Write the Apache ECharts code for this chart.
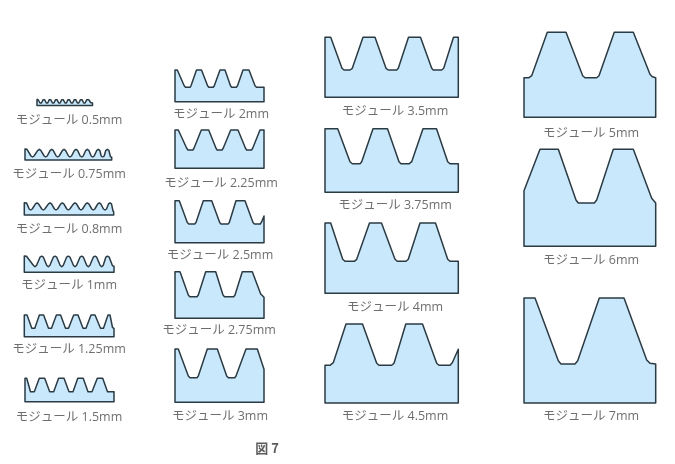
<!DOCTYPE html>
<html>
<head>
<meta charset="utf-8">
<style>
  html, body { margin: 0; padding: 0; background: #fff; }
  #chart { width: 675px; height: 464px; }
</style>
<script src="https://cdn.jsdelivr.net/npm/echarts@6/dist/echarts.min.js"></script>
</head>
<body>
<div id="chart"></div>
<script>
// outlines, one list per module
const m0_5 = [[37,99.5],[38,99.5],[40,103],[41.5,103],[43,99.7],[44.5,99.7],[46.3,103],[47.7,103],[49.3,99.7],[50.7,99.7],[52.5,103],[53.9,103],[55.6,99.7],[57,99.7],[58.7,103],[60.1,103],[61.8,99.7],[63.2,99.7],[65,103],[66.4,103],[68,99.7],[69.4,99.7],[71.2,103],[72.6,103],[74.3,99.7],[75.7,99.7],[77.4,103],[78.8,103],[80.5,99.7],[82,99.7],[83.7,103],[85.1,103],[86.8,99.7],[88.8,99.7],[90.5,102.5],[92.5,103],[92.5,105.5],[37,105.5]];
const m0_75 = [[25,149],[27,149.3],[31,156],[32.5,157],[34,156],[37.8,150.3],[39.3,149.3],[40.8,150.3],[44.2,156],[45.7,157],[47.2,156],[50.2,150.3],[51.7,149.3],[53.2,150.3],[56.2,156],[57.7,157],[59.2,156],[62.5,150.3],[64,149.3],[65.5,150.3],[68.5,156],[70,157],[71.5,156],[74.5,150.3],[76,149.3],[77.5,150.3],[80.2,156],[81.7,157],[83.2,156],[85.8,150.3],[87.3,149.3],[88.8,150.3],[91.2,156],[92.7,157],[94.2,156],[96.8,150.3],[98.3,149.3],[99.8,150.3],[101.2,156],[102.7,157],[104.2,156],[105.8,150.3],[107.3,149.3],[108.8,150.3],[110.5,156.8],[111.7,157.3],[111.7,160],[25,160]];
const m0_8 = [[24.3,202.7],[26.5,202.9],[29.2,209],[30.7,210],[32.2,209],[35.5,203.9],[37,202.9],[38.5,203.9],[41.8,209],[43.3,210],[44.8,209],[48.5,203.9],[50,202.9],[51.5,203.9],[54.5,209],[56,210],[57.5,209],[60.8,203.9],[62.3,202.9],[63.8,203.9],[66.8,209],[68.3,210],[69.8,209],[73.5,203.9],[75,202.9],[76.5,203.9],[79.5,209],[81,210],[82.5,209],[85.8,203.9],[87.3,202.9],[88.8,203.9],[91.8,209],[93.3,210],[94.8,209],[97.8,203.9],[99.3,202.9],[100.8,203.9],[103.5,209],[105,210],[106.5,209],[108.5,203.9],[110,202.9],[111.5,203.9],[113,211],[113.7,211.7],[113.7,215],[24.3,215]];
const m1 = [[24.3,256],[26.5,256.2],[33.5,265.5],[35,266.7],[36.5,265.5],[40,257.2],[41.7,256.2],[43.4,257.2],[46.8,265.5],[48.3,266.7],[49.8,265.5],[53.3,257.2],[55,256.2],[56.7,257.2],[60.2,265.5],[61.7,266.7],[63.2,265.5],[66.6,257.2],[68.3,256.2],[70,257.2],[73.5,265.5],[75,266.7],[76.5,265.5],[80,257.2],[81.7,256.2],[83.4,257.2],[86.8,265.5],[88.3,266.7],[89.8,265.5],[93.3,257.2],[95,256.2],[96.7,257.2],[100.2,265.5],[101.7,266.7],[103.2,265.5],[105.8,257.2],[107.5,256.2],[109.2,257.2],[112.5,265.8],[114,266.2],[114,272.3],[24.3,272.3]];
const m1_25 = [[24.3,315],[27,315],[31.8,328.3],[34.8,328.3],[39.4,315],[43.6,315],[48.5,328.3],[51.5,328.3],[56.4,315],[60.6,315],[65.5,328.3],[68.5,328.3],[73.7,315],[78,315],[83,328.3],[86,328.3],[91,315],[95,315],[100.5,328.3],[103.5,328.3],[108,315],[110,315],[112.5,327.5],[114,328.3],[114,336.7],[24.3,336.7]];
const m1_5 = [[25,378.3],[26.7,378.3],[30.5,391.7],[34.3,391.7],[39.3,378.3],[44.7,378.3],[49.7,391.7],[53.7,391.7],[58.6,378.3],[64,378.3],[69,391.7],[73,391.7],[77.8,378.3],[83.2,378.3],[88,391.7],[92,391.7],[97.3,378.3],[102.7,378.3],[107.5,391.7],[114,391.7],[114,401.7],[25,401.7]];
const m2 = [[175,70],[177.3,70],[184.2,85.8],[185.5,87.3],[190,87.3],[191,85.8],[196.5,70],[201.5,70],[207.6,85.8],[208.8,87.3],[213.2,87.3],[214.3,85.8],[220,70],[225,70],[230.5,85.8],[231.7,87.3],[236.3,87.3],[237.5,85.8],[243,70],[249,70],[255,85.8],[256.5,87.3],[264,87.3],[264,101.7],[175,101.7]];
const m2_25 = [[175,130],[178.3,130],[186.7,148.3],[188,150],[192.8,150],[194,148.3],[201.3,130],[208.7,130],[216,148.3],[217.2,150],[222,150],[223.2,148.3],[230.7,130],[238,130],[245.5,148.3],[246.7,150],[251.5,150],[252.7,148.3],[260,130],[264,130],[264,168.3],[175,168.3]];
const m2_5 = [[175,200.7],[179.3,200.7],[187.3,222.5],[188.8,224],[194.7,224],[196,222.5],[203.3,200.7],[211.7,200.7],[219.7,222.5],[221,224],[228,224],[229.3,222.5],[236,200.7],[245,200.7],[253,222.5],[254.5,224],[260.3,224],[261.7,221.7],[264,216],[264,242.7],[175,242.7]];
const m2_75 = [[175,271.7],[180,271.7],[188.3,295],[189.8,296.7],[197,296.7],[198.3,295],[205.7,271.7],[215.7,271.7],[223,295],[224.5,296.7],[233.7,296.7],[235,295],[242.3,271.7],[252.3,271.7],[260.7,294],[264,297.3],[264,318.3],[175,318.3]];
const m3 = [[175,349],[178.3,349],[188.3,376],[190,377.7],[197,377.7],[198.3,376],[207.3,349],[217.3,349],[226.7,376],[228.3,377.7],[234.7,377.7],[236,376],[246,349],[257.3,349],[264,369.3],[264,402.3],[175,402.3]];
const m3_5 = [[325,37.3],[330.7,37.3],[342,68.3],[344,70],[350,70],[352.3,68.3],[363,37.3],[375,37.3],[386,68.3],[388.3,70],[396.7,70],[398.3,68.3],[408.5,37.3],[420.5,37.3],[431.7,68.3],[433.3,70],[441.7,70],[443.7,68.3],[453.5,37.3],[458.3,37.3],[458.3,97.3],[325,97.3]];
const m3_75 = [[325,128.7],[337.7,128.7],[350,161.7],[352.3,163.7],[360,163.7],[361.7,161.7],[373,128.7],[387.5,128.7],[399,161.7],[401,163.7],[409.3,163.7],[411.7,161.7],[423,128.7],[436.5,128.7],[447.7,161.7],[450,163.7],[458.3,163.7],[458.3,192.3],[325,192.3]];
const m4 = [[325,223],[330.7,223],[342.7,259.3],[345,261.3],[354.3,261.3],[356.7,259.3],[369.5,223],[381.5,223],[395,259.3],[397.3,261.3],[406,261.3],[408.3,259.3],[420,223],[435.5,223],[447.7,259.3],[450,261.3],[458.3,261.3],[458.3,293.3],[325,293.3]];
const m4_5 = [[325,365.3],[330,365.3],[333.3,362.7],[346,324],[362.5,324],[376.7,363.3],[379,365.3],[391.7,365.3],[394,363.3],[405.8,324],[422.5,324],[436.7,363.3],[439,365.3],[450,365.3],[452.3,362.7],[458.3,349.3],[458.3,403],[325,403]];
const m5 = [[524,77.7],[529,77.7],[531.7,75.7],[547.3,32.3],[566,32.3],[582.7,75.7],[585,77.7],[596.7,77.7],[599,75.7],[614.3,32.3],[633.3,32.3],[650,74.3],[652.3,76.7],[655.7,77.7],[655.7,117.3],[524,117.3]];
const m6 = [[524,190.7],[540,149.3],[558.3,149.3],[576,200],[578.3,203],[594.3,203],[596.7,200],[613.3,149.3],[633.3,149.3],[651.7,198.3],[655.7,203],[655.7,246.3],[524,246.3]];
const m7 = [[524,298],[535,298],[558.3,360.7],[561,364],[575,364],[577.7,360.7],[599.3,298],[624,298],[646.7,360],[650,363.3],[655.7,364],[655.7,403],[524,403]];

const outlines = [m0_5, m0_75, m0_8, m1, m1_25, m1_5, m2, m2_25, m2_5, m2_75, m3, m3_5, m3_75, m4, m4_5, m5, m6, m7];

const labelTexts = ["モジュール 0.5mm", "モジュール 0.75mm", "モジュール 0.8mm", "モジュール 1mm", "モジュール 1.25mm", "モジュール 1.5mm",
  "モジュール 2mm", "モジュール 2.25mm", "モジュール 2.5mm", "モジュール 2.75mm", "モジュール 3mm",
  "モジュール 3.5mm", "モジュール 3.75mm", "モジュール 4mm", "モジュール 4.5mm",
  "モジュール 5mm", "モジュール 6mm", "モジュール 7mm"];
const labelX = [69, 69, 69, 69, 69, 69, 221, 221, 220, 219, 220, 395, 395, 395, 395, 591, 591, 591];
const labelY = [120, 174, 229, 285, 349, 417, 114, 183, 255, 330, 416, 111, 205, 307, 416, 133, 260, 416];

const chart = echarts.init(document.getElementById("chart"));
chart.setOption({
  animation: false,
  backgroundColor: "#fff",
  grid: { left: 0, right: 0, top: 0, bottom: 0 },
  xAxis: { type: "value", min: 0, max: 675, show: false },
  yAxis: { type: "value", min: 0, max: 464, inverse: true, show: false },
  series: [
    {
      type: "custom",
      data: outlines.map((o, i) => [i, o[0][0], o[0][1]]),
      encode: { x: 1, y: 2 },
      renderItem: (params, api) => {
        const pts = outlines[api.value(0)].map((p) => api.coord(p));
        return {
          type: "polygon",
          shape: { points: pts },
          style: { fill: "#c9e8fb", stroke: "#2b3b44", lineWidth: 1.5, lineJoin: "round" },
        };
      },
    },
    {
      type: "scatter",
      symbolSize: 0,
      data: labelTexts.map((t, i) => ({ name: t, value: [labelX[i], labelY[i]] })),
      label: {
        show: true,
        position: "inside",
        formatter: "{b}",
        color: "#4a4a4a",
        fontSize: 12.5,
        fontFamily: "'Open Sans', 'Noto Sans CJK JP', sans-serif",
      },
    },
    {
      type: "scatter",
      symbolSize: 0,
      data: [{ name: "図 7", value: [267, 448] }],
      label: {
        show: true,
        position: "inside",
        formatter: "{b}",
        color: "#333",
        fontSize: 13,
        fontWeight: "bold",
        fontFamily: "'Noto Sans CJK JP', sans-serif",
      },
    },
  ],
});
</script>
</body>
</html>
